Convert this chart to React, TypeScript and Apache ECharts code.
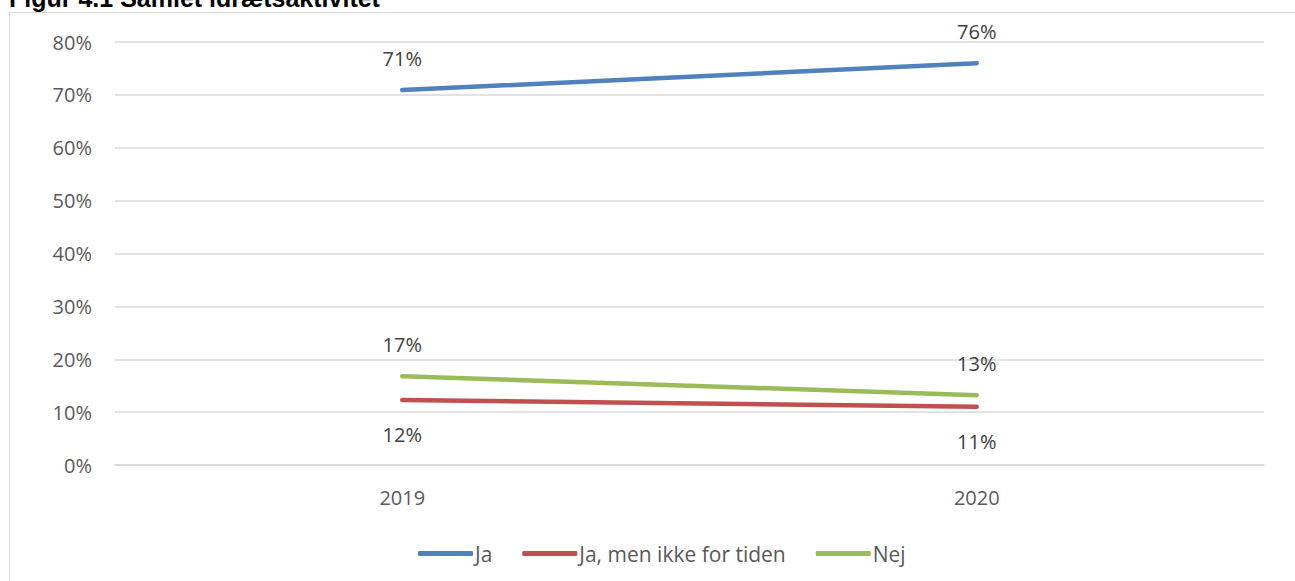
import React, { useEffect, useRef } from "react";
import * as echarts from "echarts";

const title = "Figur 4.1 Samlet idrætsaktivitet";
const categories = ["2019", "2020"];
const yTicks = [0, 0.1, 0.2, 0.3, 0.4, 0.5, 0.6, 0.7, 0.8];
const seriesNames = ["Ja", "Ja, men ikke for tiden", "Nej"];
const jaValues = [0.709, 0.76];
const jaMenValues = [0.123, 0.11];
const nejValues = [0.168, 0.132];
const colors = ["#4f81bd", "#c0504d", "#9bbb59"];

const FONT = "'Open Sans', sans-serif";

export default function App() {
  const ref = useRef<HTMLDivElement>(null);
  useEffect(() => {
    document.body.style.margin = "0";
    if (!ref.current) return;
    const chart = echarts.init(ref.current, undefined, { renderer: "svg" });
    const pct = (p: any) => Math.round(p.value * 100) + "%";
    const mk = (i: number, data: number[], pos: "top" | "bottom", dist: number) => ({
      name: seriesNames[i],
      type: "line",
      data,
      symbol: "circle",
      symbolSize: 0.01,
      showSymbol: true,
      smooth: false,
      lineStyle: { color: colors[i], width: 4.5, cap: "round" },
      itemStyle: { color: colors[i] },
      label: {
        show: true,
        position: pos,
        distance: dist,
        formatter: pct,
        fontFamily: FONT,
        fontSize: 20,
        color: "#404040",
      },
      emphasis: { disabled: true },
    });
    chart.setOption({
      animation: false,
      graphic: [
        {
          type: "rect",
          shape: { x: 9.5, y: 12.5, width: 1400, height: 700 },
          style: { fill: "none", stroke: "#d9d9d9", lineWidth: 1 },
          silent: true,
        },
        {
          type: "text",
          x: 9,
          y: -2,
          style: {
            text: title,
            font: "bold 25px 'Liberation Sans', Arial, sans-serif",
            fill: "#000000",
            textVerticalAlign: "middle",
            verticalAlign: "middle",
          },
          silent: true,
        },
      ],
      grid: { left: 115, right: 31, top: 42, bottom: 116, containLabel: false },
      legend: {
        left: 413,
        top: 538,
        itemWidth: 55,
        itemHeight: 5,
        itemGap: 30,
        icon: "roundRect",
        data: seriesNames,
        textStyle: { fontFamily: FONT, fontSize: 21, color: "#595959", padding: [0, 0, 0, -3] },
      },
      xAxis: {
        type: "category",
        data: categories,
        boundaryGap: true,
        axisLine: { show: true, lineStyle: { color: "#d9d9d9", width: 1.5 } },
        axisTick: { show: false },
        axisLabel: { fontFamily: FONT, fontSize: 20, color: "#595959", margin: 22 },
      },
      yAxis: {
        type: "value",
        min: yTicks[0],
        max: yTicks[yTicks.length - 1],
        interval: 0.1,
        axisLine: { show: false },
        axisTick: { show: false },
        splitLine: { lineStyle: { color: "#d9d9d9", width: 1.5 } },
        axisLabel: {
          fontFamily: FONT,
          fontSize: 20,
          color: "#595959",
          margin: 23,
          formatter: (v: number) => Math.round(v * 100) + "%",
        },
      },
      series: [
        mk(0, jaValues, "top", 22),
        mk(1, jaMenValues, "bottom", 25),
        mk(2, nejValues, "top", 22),
      ],
    });
    return () => chart.dispose();
  }, []);
  return <div ref={ref} style={{ width: 1295, height: 581 }} />;
}
